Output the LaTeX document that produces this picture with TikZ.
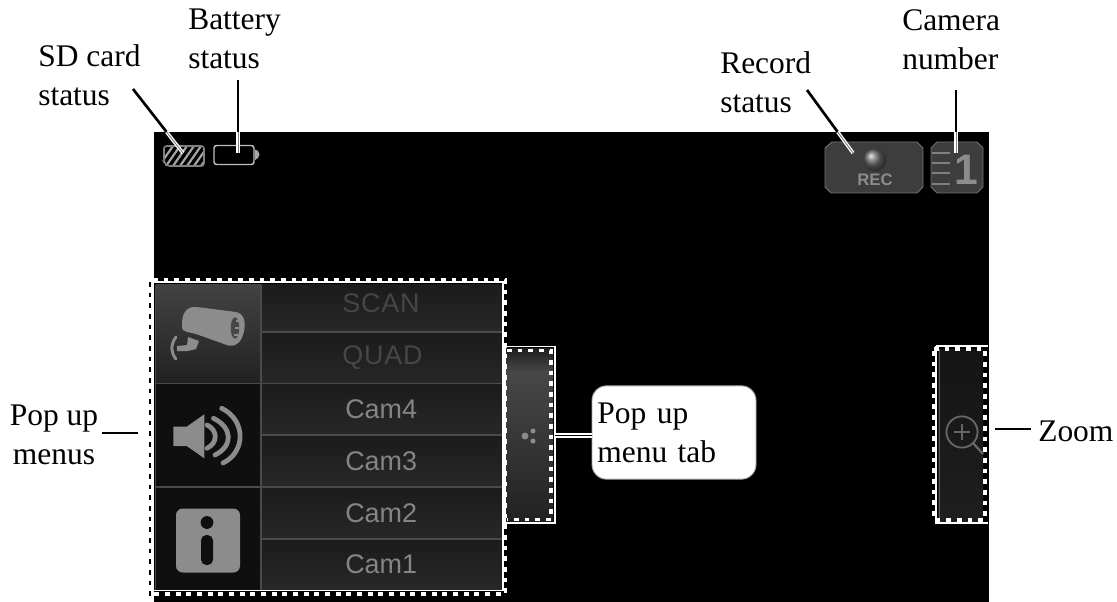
\documentclass[tikz,border=0pt]{standalone}
\usepackage{fontspec}
\setmainfont{Liberation Serif}
\newfontfamily\uisans{Liberation Sans}
\newfontfamily\uispaced[LetterSpace=3]{Liberation Sans}
\definecolor{icongray}{HTML}{8C8C8C}
\definecolor{rowline}{HTML}{4A4A4A}
\definecolor{rowtop}{HTML}{1B1B1B}
\definecolor{rowbot}{HTML}{282828}
\definecolor{dimtext}{HTML}{464646}
\definecolor{camtext}{HTML}{858585}
\tikzset{
  x=0.75pt,y=-0.75pt,
  lbl/.style={font=\fontsize{23.6pt}{29.25pt}\selectfont,align=left,text=black,inner sep=0pt},
  uitext/.style={font=\uisans\fontsize{20.2pt}{22pt}\selectfont,inner sep=0pt,text=camtext,anchor=base west},
  uidim/.style={font=\uispaced\fontsize{20.2pt}{22pt}\selectfont,inner sep=0pt,text=dimtext,anchor=base west},
  leader/.style={draw=black,line width=2pt},
  halo/.style={draw=white,line width=2.6pt},
  haloin/.style={draw=gray,line width=0.7pt},
  frameline/.style={draw=white,line width=1pt},
  teeth/.style={draw=white,line width=2.6pt,dash pattern=on 3.6pt off 4.4pt},
  blackticks/.style={draw=black,line width=1.7pt,dash pattern=on 3.4pt off 4.6pt},
  rowrule/.style={draw=rowline,line width=0.9pt},
  rowfill/.style={draw=none,top color=rowtop,bottom color=rowbot},
  icon/.style={draw=none,fill=icongray},
  iconline/.style={draw=icongray,line width=#1},
  iconline/.default=1pt,
}
\begin{document}
\begin{tikzpicture}
\useasboundingbox (0,0) rectangle (1117,602);
\fill[white] (0,0) rectangle (1117,602);
% screen
\fill[black] (153.5,132) rectangle (989,602);

% menu body
\fill[rowfill] (261,285) rectangle (503,332);
\fill[rowfill] (261,332) rectangle (503,384);
\fill[rowfill] (261,384) rectangle (503,435);
\fill[rowfill] (261,435) rectangle (503,487);
\fill[rowfill] (261,487) rectangle (503,539);
\fill[rowfill] (261,539) rectangle (503,590);
\fill[top color=black!74!white,bottom color=black!87!white] (156,285) rectangle (261,384);
\fill[black!94!white] (156,384) rectangle (261,590);
\draw[rowrule] (261,332) -- (503,332) (156,383.5) -- (503,383.5) (261,435) -- (503,435)
  (156,487) -- (503,487) (261,539) -- (503,539) (261,285) -- (261,590) (155.5,285) -- (155.5,590);

% menu labels
\node[uidim] (scan) at (342,312) {SCAN};
\node[uidim] (quad) at (342,364) {QUAD};
\node[uitext] (cam4) at (345,418) {Cam4};
\node[uitext] (cam3) at (345,470) {Cam3};
\node[uitext] (cam2) at (345,522) {Cam2};
\node[uitext] (cam1) at (345,573) {Cam1};

% camera icon
\fill[icon] (182,322) .. controls (183,309) and (190,306) .. (197,307)
  -- (236,312) .. controls (246,314) and (246,326) .. (243,335)
  .. controls (240,345) and (232,348) .. (224,344)
  -- (196,334) .. controls (188,332) and (183,332) .. (182,328) -- cycle;
\fill[black!72!white] (235,328) ellipse (3.2pt and 8pt);
\draw[iconline=1pt] (236,321) -- (239,321) (235,328) -- (239,328) (234,335) -- (238,335);
\fill[icon] (188,337) -- (199,341) -- (196,349) -- (188,351) -- (177,351) -- (177,346) -- (187,345) -- cycle;
\draw[iconline=2.2pt,line cap=round] (176,337) .. controls (170,345) and (171,353) .. (176,359);

% speaker icon
\fill[icon] (173.3,426.7) -- (186.7,426.7) -- (204.3,414.3) -- (204.3,458.3) -- (186.7,446) -- (173.3,446) -- cycle;
\draw[iconline=3.6pt,line cap=round] (207,425) .. controls (218,430) and (218,443) .. (207,448.3);
\draw[iconline=3.6pt,line cap=round] (213.5,418.3) .. controls (233,428) and (233,446) .. (215,455);
\draw[iconline=3.6pt,line cap=round] (221.7,408.3) .. controls (246,420) and (246,452) .. (223,463);

% info icon
\fill[icon,rounded corners=5pt] (176,508.5) rectangle (240,572.5);
\fill[black!94!white] (207,522.5) circle (4.8pt);
\fill[black!94!white,rounded corners=4pt] (201,535) rectangle (213,565);

% tab
\fill[top color=black!88!white,bottom color=black!72!white] (505,348) rectangle (553,372);
\fill[top color=black!72!white,bottom color=black!87!white] (505,372) rectangle (553,523);
\fill[icongray] (525,436) circle (2.6pt) (533,431) circle (1.9pt) (533,441) circle (1.9pt);

% zoom panel
\fill[top color=black!92!white,bottom color=black!88!white] (938,349) rectangle (983,521);
\draw[draw=black!65!white,line width=1pt] (939.5,349) -- (939.5,521);
\draw[draw=black!60!white,line width=1.4pt] (962,432) circle (11.7pt);
\draw[draw=black!60!white,line width=1pt] (962,424) -- (962,440) (954,432) -- (970,432);
\draw[draw=black!60!white,line width=1.7pt] (973.5,443.5) -- (983,454);

% dashed selection frames
\draw[frameline] (152.5,282) rectangle (503,590.5);
\draw[teeth] (153,279.5) -- (505.5,279.5) -- (505.5,594) -- (153,594);
\draw[blackticks] (150,282) -- (150,597);
\draw[frameline] (505,346.5) rectangle (555,523);
\draw[teeth] (507,350.5) -- (551,350.5) -- (551,519.5) -- (507,519.5);
\draw[frameline] (936,346) -- (988,346) (936,346) -- (936,523) -- (988,523);
\draw[teeth] (934,349) -- (985,349) -- (985,520) -- (934,520) -- cycle;

% status icons
\begin{scope}
\clip (164,146) rectangle (203,166);
\foreach \i in {-1,...,6} {
  \draw[draw=black!35!white,line width=1.6pt] (\i*7+166,166) -- (\i*7+180,146);
}
\end{scope}
\draw[draw=black!50!white,line width=1.2pt,rounded corners=2pt] (164,146) -- (204,146) -- (204,166) -- (167,166) -- (164,162) -- cycle;
\draw[draw=black!25!white,line width=1.1pt,rounded corners=2pt] (214,145.5) rectangle (254,164.5);
\fill[black!35!white] (255,149.5) -- (258,151) -- (259.5,154.5) -- (258,158) -- (255,160) -- cycle;

% REC
\fill[draw=black!55!white,line width=0.7pt,fill=black!76!white]
  (832,142) -- (917,142) -- (923,148) -- (923,187) -- (917,193) -- (831,193) -- (825,187) -- (825,148) -- cycle;
\shade[ball color=black!60!white] (875,160) circle (8.5pt);
\node[font=\uisans\bfseries\fontsize{12.5pt}{14pt}\selectfont,text=icongray,inner sep=0pt] (rec) at (875,180) {REC};
% camera number
\fill[draw=black!55!white,line width=0.7pt,fill=black!76!white]
  (937,142) -- (977,142) -- (983,148) -- (983,187) -- (977,193) -- (937,193) -- (931,187) -- (931,148) -- cycle;
\draw[draw=black!50!white,line width=1pt] (932,153) -- (950,153) (932,163) -- (950,163) (932,173) -- (950,173) (932,184) -- (950,184);
\node[font=\uisans\bfseries\fontsize{32pt}{34pt}\selectfont,text=icongray,inner sep=0pt] (camnum) at (966,170) {1};

% labels
\node[lbl,anchor=base west] (sd) at (38,106) {SD card\\status};
\node[lbl,anchor=base west] (batt) at (188,69) {Battery\\status};
\node[lbl,anchor=base west] (record) at (720,113) {Record\\status};
\node[lbl,anchor=base west] (camera) at (902,70) {Camera\\number};
\node[lbl,align=center,anchor=base] (menus) at (54,464) {Pop up\\menus};
\node[lbl,anchor=base west] (zoomlbl) at (1038,441) {Zoom};
\node[lbl,fill=white,draw=black!35!white,line width=0.7pt,rounded corners=11pt,minimum width=123pt,minimum height=70pt,text width=115pt,inner sep=2pt] (tabbox) at (674,432.5) {Pop up\\menu tab};

% connectors
\coordinate (sdend) at (183,153);
\coordinate (sdstart) at (133,89);
\coordinate (sdin) at (166.6,132);
\coordinate (battend) at (238,153);
\coordinate (battstart) at (238,80);
\coordinate (battin) at (238,132);
\coordinate (recend) at (853,153);
\coordinate (recstart) at (807,90);
\coordinate (recin) at (837.7,132);
\coordinate (camend) at (956,153);
\coordinate (camstart) at (956,90);
\coordinate (camin) at (956,132);
\coordinate (menuend) at (138,433);
\coordinate (menustart) at (102,433);
\coordinate (zoomstart) at (995,429);
\coordinate (zoomend) at (1031,429);
\coordinate (tabstart) at (555,435.5);

\draw[leader] (sdstart) -- (sdin);
\draw[halo] (sdin) -- (sdend);
\draw[haloin] (sdin) -- (sdend);
\draw[leader] (battstart) -- (battin);
\draw[halo] (battin) -- (battend);
\draw[haloin] (battin) -- (battend);
\draw[leader] (recstart) -- (recin);
\draw[halo] (recin) -- (recend);
\draw[haloin] (recin) -- (recend);
\draw[leader] (camstart) -- (camin);
\draw[halo] (camin) -- (camend);
\draw[haloin] (camin) -- (camend);
\draw[leader] (menustart) -- (menuend);
\draw[leader] (zoomstart) -- (zoomend);
\draw[halo,line width=3.4pt] (tabstart) -- (tabstart -| tabbox.west);
\draw[draw=black,line width=1pt] (tabstart) -- (tabstart -| tabbox.west);
\end{tikzpicture}
\end{document}
